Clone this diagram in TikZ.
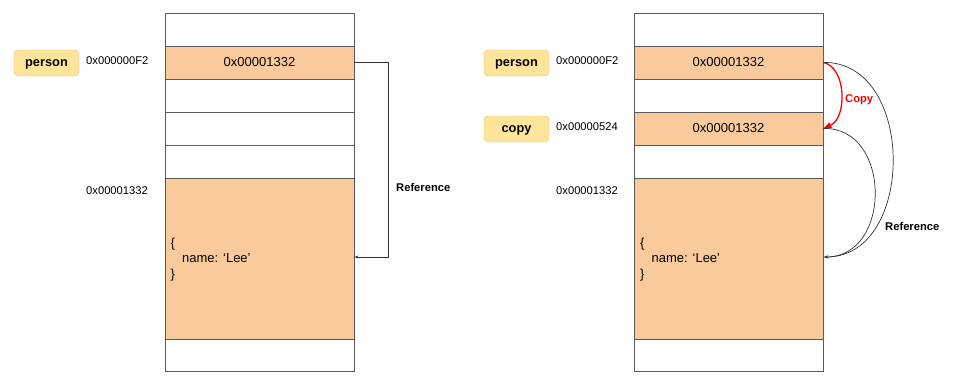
\documentclass[tikz,border=0pt]{standalone}
\usepackage{fontspec}
\setmainfont{Liberation Sans}
\usetikzlibrary{arrows.meta}
\definecolor{peach}{HTML}{F9CB9C}
\definecolor{varyel}{HTML}{FFE599}
\definecolor{gridln}{HTML}{595959}
\definecolor{copyred}{HTML}{FF0000}
\tikzset{
  cell/.style={draw=gridln, line width=0.9pt, minimum width=189pt, inner sep=0pt, anchor=north},
  slot/.style={cell, minimum height=33pt},
  filled/.style={fill=peach},
  varbox/.style={fill=varyel, draw=varyel!85!black, line width=0.4pt, rounded corners=4pt, minimum width=65pt, minimum height=26pt, inner sep=0pt, text height=9.5pt, text depth=2.5pt, font=\fontsize{12.8}{14}\selectfont\bfseries},
  addr/.style={font=\fontsize{11.2}{13}\selectfont, anchor=west, inner sep=0pt},
  val/.style={font=\fontsize{13}{15}\selectfont},
  lbl/.style={font=\fontsize{11.2}{13}\selectfont\bfseries, inner sep=0pt},
  refarrow/.style={draw=black!80, line width=0.7pt, -{Stealth[length=4pt,width=3pt]}},
  copyarrow/.style={draw=copyred, line width=1.3pt, -{Triangle[length=8pt,width=6pt]}}
}
\begin{document}
\begin{tikzpicture}[x=1pt,y=-1pt]
\useasboundingbox (0,0) rectangle (954,384);
% ---------- left memory ----------
\node[slot] (L0) at (259.5,12.5) {};
\node[slot,filled] (L1) at (259.5,45.5) {};
\node[val] (L1t) at (L1.center) {0x00001332};
\node[slot] (L2) at (259.5,78.5) {};
\node[slot] (L3) at (259.5,111.5) {};
\node[slot] (L4) at (259.5,144.5) {};
\node[cell,filled,minimum height=161pt] (L5) at (259.5,177.5) {};
\node[slot,minimum height=32pt] (L6) at (259.5,338.5) {};
\node[val,anchor=north west,align=left,inner sep=0pt,font=\fontsize{13}{15.5}\selectfont] (Lobj) at (170.5,237.5) {\{\\\hspace{11.5pt}name: ‘Lee’\\\}};
\node[varbox] (Lperson) at (46.5,63) {person};
\node[addr] (La1) at (86,61) {0x000000F2};
\node[addr] (La2) at (86,191) {0x00001332};
\coordinate (Lc2) at (388,257);
\draw[refarrow] (L1.east) -- (L1.east -| Lc2) -- (Lc2) -- (L5.east |- Lc2);
\node[lbl,anchor=west] (Lref) at (396,187) {Reference};
% ---------- right memory ----------
\node[slot] (R0) at (728.5,12.5) {};
\node[slot,filled] (R1) at (728.5,45.5) {};
\node[val] (R1t) at (R1.center) {0x00001332};
\node[slot] (R2) at (728.5,78.5) {};
\node[slot,filled] (R3) at (728.5,111.5) {};
\node[val] (R3t) at (R3.center) {0x00001332};
\node[slot] (R4) at (728.5,144.5) {};
\node[cell,filled,minimum height=161pt] (R5) at (728.5,177.5) {};
\node[slot,minimum height=32pt] (R6) at (728.5,338.5) {};
\node[val,anchor=north west,align=left,inner sep=0pt,font=\fontsize{13}{15.5}\selectfont] (Robj) at (640,237.5) {\{\\\hspace{11.5pt}name: ‘Lee’\\\}};
\node[varbox] (Rperson) at (516.5,63) {person};
\node[varbox] (Rcopy) at (516.5,129) {copy};
\node[addr] (Ra1) at (556,61) {0x000000F2};
\node[addr] (Ra2) at (556,127) {0x00000524};
\node[addr] (Ra3) at (556,191) {0x00001332};
\coordinate (Rtgt) at (824,257);
\draw[copyarrow] (R1.east) .. controls (847,68) and (847,118) .. (R3.east);
\node[lbl,text=copyred,anchor=west] (Rcopyl) at (845,100) {Copy};
\draw[refarrow] (R1.east) .. controls (916,61) and (916,257) .. (Rtgt);
\draw[refarrow] (R3.east) .. controls (892,127) and (892,257) .. (Rtgt);
\node[lbl,anchor=west] (Rref) at (885,226) {Reference};
\end{tikzpicture}
\end{document}
